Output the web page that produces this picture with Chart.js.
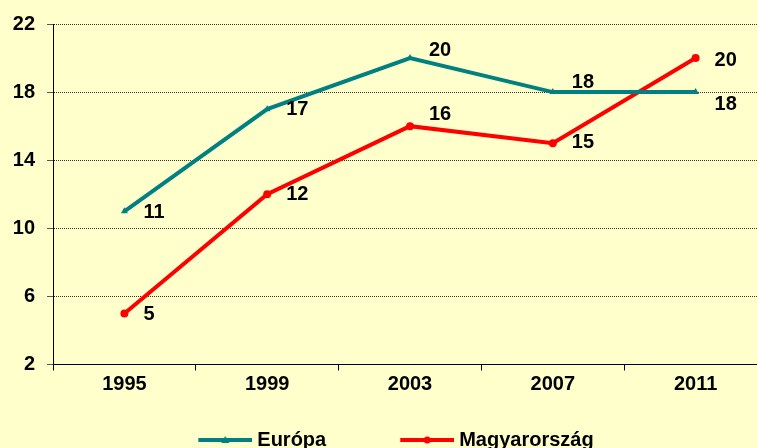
<!DOCTYPE html>
<html>
<head>
<meta charset="utf-8">
<script src="https://cdn.jsdelivr.net/npm/chart.js@4/dist/chart.umd.min.js"></script>
<style>
  html, body { margin: 0; padding: 0; background: #ffffcc; overflow: hidden; }
  #wrap { position: absolute; left: 0; top: 0; width: 771px; height: 460px; }
</style>
</head>
<body>
<div id="wrap"><canvas id="chart" width="771" height="460"></canvas></div>
<script>
// adatok
const years = ['1995', '1999', '2003', '2007', '2011'];
const europa = [11, 17, 20, 18, 18];
const magyar = [5, 12, 16, 15, 20];
const yTicks = [2, 6, 10, 14, 18, 22];

// cimkek fuggoleges eltolasa (stilus)
const europaLabelDy = [1, 0, -8, -10, 12];
const magyarLabelDy = [1, 0, -12, -1, 2];

const TEAL = '#008080';
const RED = '#ff0000';
const FONT = "'Liberation Sans', Arial, sans-serif";

// legend minta: vonal + jelolo
function legendSwatch(color, shape) {
  const c = document.createElement('canvas');
  c.width = 98; c.height = 12;
  const g = c.getContext('2d');
  g.strokeStyle = color; g.fillStyle = color;
  g.lineWidth = 4;
  g.beginPath(); g.moveTo(44, 6); g.lineTo(98, 6); g.stroke();
  g.beginPath();
  if (shape === 'triangle') {
    g.moveTo(71, 2); g.lineTo(75, 9); g.lineTo(67, 9); g.closePath();
  } else {
    g.arc(71, 6, 3.5, 0, Math.PI * 2);
  }
  g.fill();
  return c;
}

const valueLabels = {
  id: 'valueLabels',
  afterDatasetsDraw(chart) {
    const ctx = chart.ctx;
    const offsets = [europaLabelDy, magyarLabelDy];
    ctx.save();
    ctx.font = 'bold 20px ' + FONT;
    ctx.fillStyle = '#000';
    ctx.textAlign = 'left';
    ctx.textBaseline = 'middle';
    chart.data.datasets.forEach((ds, di) => {
      chart.getDatasetMeta(di).data.forEach((pt, i) => {
        ctx.fillText(ds.data[i], pt.x + 19, pt.y + offsets[di][i]);
      });
    });
    ctx.restore();
  }
};

const bg = {
  id: 'bg',
  beforeDraw(chart) {
    const ctx = chart.ctx;
    ctx.save();
    ctx.fillStyle = '#ffffcc';
    ctx.fillRect(0, 0, chart.width, chart.height);
    ctx.restore();
  }
};

// a jelmagyarazat kicsit balra tolva
const legendShift = {
  id: 'legendShift',
  afterLayout(chart) {
    chart.legend.left -= 9;
    chart.legend.right -= 9;
  }
};

new Chart(document.getElementById('chart'), {
  type: 'line',
  data: {
    labels: years,
    datasets: [
      {
        label: 'Európa',
        data: europa,
        borderColor: TEAL,
        backgroundColor: TEAL,
        borderWidth: 4,
        pointStyle: 'triangle',
        pointRadius: 4,
        pointBorderWidth: 0,
        tension: 0
      },
      {
        label: 'Magyarország',
        data: magyar,
        borderColor: RED,
        backgroundColor: RED,
        borderWidth: 4,
        pointStyle: 'circle',
        pointRadius: 4,
        pointBorderWidth: 0,
        tension: 0
      }
    ]
  },
  options: {
    responsive: false,
    animation: false,
    devicePixelRatio: 1,
    layout: { padding: { top: 22, left: 0, right: 0, bottom: 0 } },
    plugins: {
      tooltip: { enabled: false },
      legend: {
        position: 'bottom',
        labels: {
          usePointStyle: true,
          pointStyleWidth: 88,
          padding: 35,
          color: '#000',
          font: { family: FONT, size: 20, weight: 'bold' },
          generateLabels(chart) {
            const items = Chart.defaults.plugins.legend.labels.generateLabels(chart);
            items[0].pointStyle = legendSwatch(TEAL, 'triangle');
            items[1].pointStyle = legendSwatch(RED, 'circle');
            return items;
          }
        }
      }
    },
    scales: {
      x: {
        offset: true,
        grid: {
          offset: true,
          drawOnChartArea: false,
          drawTicks: true,
          tickLength: 6,
          color: '#000'
        },
        border: { color: '#000', width: 1 },
        ticks: {
          color: '#000',
          padding: 2,
          font: { family: FONT, size: 20, weight: 'bold' }
        },
        afterFit(scale) { scale.height = 30.5; }
      },
      y: {
        min: 2,
        max: 22,
        afterBuildTicks(scale) { scale.ticks = yTicks.map(v => ({ value: v })); },
        grid: {
          color: '#333',
          tickLength: 6,
          tickColor: '#555'
        },
        border: { color: '#000', width: 1, dash: [1, 1] },
        ticks: {
          color: '#000',
          padding: 12,
          font: { family: FONT, size: 20, weight: 'bold' }
        },
        afterFit(scale) { scale.width = 53; }
      }
    }
  },
  plugins: [bg, legendShift, valueLabels]
});
</script>
</body>
</html>
